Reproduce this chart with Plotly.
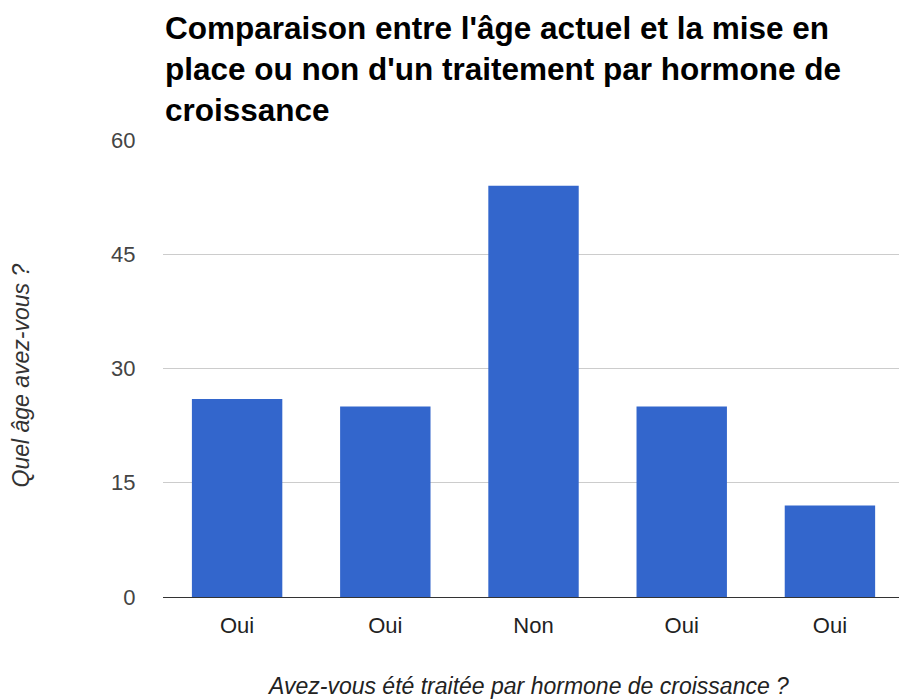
import plotly.graph_objects as go

categories = ["Oui", "Oui", "Non", "Oui", "Oui"]
ages = [26, 25, 54, 25, 12]
y_ticks = [0, 15, 30, 45, 60]

title_text = ("Comparaison entre l'âge actuel et la mise en<br>"
              "place ou non d'un traitement par hormone de<br>"
              "croissance")
x_title = "Avez-vous été traitée par hormone de croissance ?"
y_title = "Quel âge avez-vous ?"

positions = list(range(len(categories)))
FONT = "Liberation Sans, Arial, sans-serif"

fig = go.Figure(go.Bar(
    x=positions, y=ages, marker=dict(color="#3366cc", line=dict(width=0)),
    width=0.61,
))

fig.update_layout(
    width=899, height=699,
    margin=dict(l=163, r=0, t=140, b=102),
    paper_bgcolor="white", plot_bgcolor="white",
    font=dict(family=FONT, color="#444444"),
    showlegend=False,
    xaxis=dict(
        range=[-0.5, 4.466], tickmode="array", tickvals=positions, ticktext=categories,
        showgrid=False, zeroline=False, showline=False,
        ticks="outside", ticklen=9, tickcolor="rgba(0,0,0,0)",
        tickfont=dict(size=22, color="#222222"),
    ),
    yaxis=dict(
        range=[0, 60], tickmode="array", tickvals=y_ticks,
        showgrid=True, gridcolor="#cccccc", gridwidth=1,
        zeroline=True, zerolinecolor="#333333", zerolinewidth=1,
        showline=False,
        ticks="outside", ticklen=22, tickcolor="rgba(0,0,0,0)",
        tickfont=dict(size=22, color="#444444"),
    ),
    annotations=[
        dict(text="<b>" + title_text + "</b>", xref="paper", yref="paper",
             x=0.0, y=1 + 140 / 457, xanchor="left", yanchor="top", yshift=-8, xshift=0,
             align="left", showarrow=False,
             font=dict(size=31.5, color="#000000", family=FONT)),
        dict(text="<i>" + x_title + "</i>", xref="paper", yref="paper",
             x=0.5, y=0, xanchor="center", yanchor="middle", yshift=-89, xshift=-3,
             showarrow=False, font=dict(size=23, color="#222222")),
        dict(text="<i>" + y_title + "</i>", xref="paper", yref="paper",
             x=0, y=0.5, xanchor="center", yanchor="middle", xshift=-143, yshift=-7,
             textangle=-90, showarrow=False, font=dict(size=23, color="#333333")),
    ],
)

fig.write_html(
    "out.html",
    config={"displayModeBar": False},
    post_script="document.body.style.margin='0';document.body.style.overflow='hidden';",
)
